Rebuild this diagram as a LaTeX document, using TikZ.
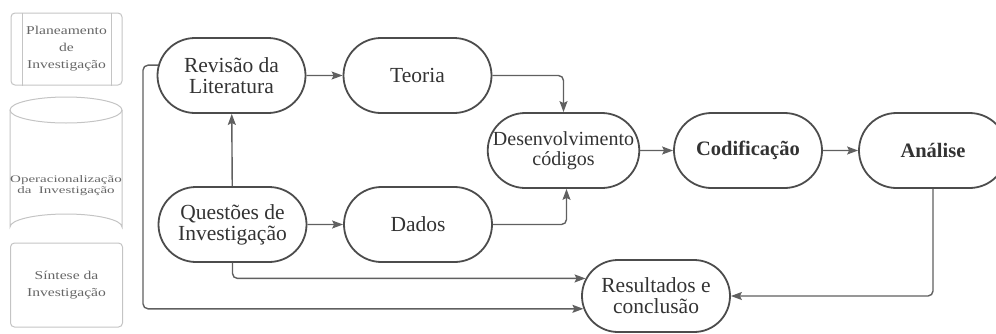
\documentclass[tikz,border=0pt]{standalone}
\usepackage{fontspec}
\setmainfont{Liberation Serif}
\newfontfamily\widefont{Liberation Serif}[FakeStretch=1.3]
\newfontfamily\widerfont{Liberation Serif}[FakeStretch=1.5]
\usetikzlibrary{shapes.misc,arrows.meta}
\definecolor{nodeline}{HTML}{4C4C4C}
\definecolor{nodetext}{HTML}{333333}
\definecolor{arrowc}{HTML}{606060}
\definecolor{panelline}{HTML}{C4C4C4}
\definecolor{paneltext}{HTML}{666666}
\tikzset{
  flow/.style={rounded rectangle, draw=nodeline, line width=1.8pt, text=nodetext,
    minimum width=148pt, minimum height=75pt, align=center, inner sep=0pt,
    font=\fontsize{21.5}{21}\selectfont},
  conn/.style={draw=arrowc, line width=1.4pt, rounded corners=5pt,
    -{Stealth[length=11pt,width=8pt,inset=2pt]}},
  panelbox/.style={draw=panelline, line width=1pt, rounded corners=4pt,
    text=paneltext, align=center, inner sep=0pt},
}
\begin{document}
\begin{tikzpicture}[x=1pt,y=-1pt]
\useasboundingbox (0,0) rectangle (996,333);

% left panel
\node[panelbox, minimum width=111pt, minimum height=72pt,
  font=\widefont\fontsize{12}{17}\selectfont] (plan) at (66.5,49)
  {Planeamento\\de\\Investigação};
\draw[panelline, line width=1pt] ([xshift=12pt]plan.north west) -- ([xshift=12pt]plan.south west);
\draw[panelline, line width=1pt] ([xshift=-11pt]plan.north east) -- ([xshift=-11pt]plan.south east);

\draw[panelline, line width=1pt] (66,110) ellipse [x radius=56, y radius=13];
\draw[panelline, line width=1pt] (10,110) -- (10,227) arc [start angle=180, end angle=360, x radius=56, y radius=13] -- (122,110);
\node[text=paneltext, align=center, font=\widerfont\fontsize{10}{11}\selectfont] (oper) at (66,185.5)
  {Operacionalização\\da\ \ Investigação};

\node[panelbox, minimum width=112pt, minimum height=84pt,
  font=\widefont\fontsize{12}{17}\selectfont] (sint) at (66.5,285)
  {Síntese da\\Investigação};

% main flow
\node[flow] (rev) at (231.5,75.5) {Revisão da\\Literatura};
\node[flow] (teo) at (417.5,75.5) {Teoria};
\node[flow] (que) at (232.5,224.5) {Questões de\\Investigação};
\node[flow] (dad) at (418,224.5) {Dados};
\node[flow, font=\fontsize{20}{20}\selectfont] (des) at (563.5,150.5) {Desenvolvimento\\códigos};
\node[flow, font=\bfseries\fontsize{20.5}{21}\selectfont] (cod) at (748,150.5) {Codificação};
\node[flow, font=\bfseries\fontsize{20.5}{21}\selectfont] (ana) at (933,150.5) {Análise};
\node[flow, minimum height=72pt] (res) at (656,296) {Resultados e\\conclusão};

\coordinate (loopx) at (143,0);

\draw[conn] (rev) -- (teo);
\draw[conn] (teo.east) -| (des.north);
\draw[conn] (dad.east) -| ([xshift=3pt]des.south);
\draw[conn] (que) -- (rev);
\draw[conn] (que) -- (dad);
\draw[conn] (des) -- (cod);
\draw[conn] (cod) -- (ana);
\draw[conn] (que.south) |- (res.166);
\draw[conn] (rev.172) -| (loopx |- res.190) -- (res.190);
\draw[conn] (ana.south) |- (res.east);
\end{tikzpicture}
\end{document}
